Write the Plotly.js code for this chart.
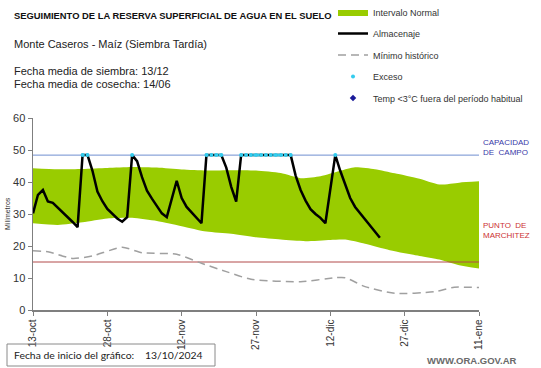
<!DOCTYPE html>
<html>
<head>
<meta charset="utf-8">
<script src="https://cdn.plot.ly/plotly-3.0.1.min.js"></script>
<style>html,body{margin:0;padding:0;background:#fff;}#chart{width:541px;height:368px;}</style>
</head>
<body>
<div id="chart"></div>
<script>
// Days since chart start (13/10/2024)
const tickDays = [0, 15, 30, 45, 60, 75, 90];
const tickLabels = ['13-oct', '28-oct', '12-nov', '27-nov', '12-dic', '27-dic', '11-ene'];

// Almacenaje (mm)
const almDays = [0,1,2,3,4,5,6,7,8,9,10,11,12,13,14,15,16,17,18,19,20,21,22,23,24,25,26,27,28,29,30,31,32,33,34,35,36,37,38,39,40,41,42,43,44,45,46,47,48,49,50,51,52,53,54,55,56,57,58,59,60,61,62,63,64,65,66,67,68,69,70];
const almValues = [30.2,36.0,37.5,33.9,33.5,32.0,30.8,29.0,27.5,25.9,48.4,48.4,43.5,37.0,34.0,31.6,30.0,28.6,27.6,29.0,48.4,46.5,41.5,37.3,34.8,32.6,30.2,29.0,34.8,40.4,35.0,32.2,30.5,28.8,27.1,48.4,48.4,48.4,48.4,44.5,38.5,33.9,48.4,48.4,48.4,48.4,48.4,48.4,48.4,48.4,48.4,48.4,48.4,42.0,37.5,34.2,31.5,30.0,28.8,27.1,37.0,48.4,43.5,39.0,35.0,32.2,30.3,28.6,26.6,24.5,22.6];

// Exceso (days at field capacity)
const excDays = [10,11,20,35,36,37,38,42,43,44,45,46,47,48,49,50,51,52,61];
const excValues = [48.4,48.4,48.4,48.4,48.4,48.4,48.4,48.4,48.4,48.4,48.4,48.4,48.4,48.4,48.4,48.4,48.4,48.4,48.4];

// Intervalo normal
const upDays = [0,5,10,15,20,25,30,35,40,45,50,54,58,62,65,69,73,78,82,86,90];
const upValues = [44.3,44.0,44.1,44.4,44.7,44.5,43.9,43.6,43.7,43.6,42.8,41.2,41.8,43.5,44.6,44.0,42.7,41.0,39.2,39.8,40.2];
const lowDays = [0,5,10,15,20,25,30,35,40,45,50,55,60,63,67,72,78,82,86,90];
const lowValues = [27.1,26.6,27.4,28.6,28.8,27.8,26.2,24.5,23.8,22.7,22.0,21.5,21.9,22.0,20.7,18.7,16.9,15.8,14.0,13.0];

// Mínimo histórico
const minDays = [0,3,8,12,18,22,29,34,39,44,54,61,63,67,73,81,85,90];
const minValues = [18.5,18.2,16.1,16.9,19.6,17.9,17.4,14.6,12.0,9.6,8.85,10.1,10.1,7.3,5.2,5.7,7.1,7.0];

// Temp <3°C fuera del período habitual (no occurrences)
const tempDays = [null];
const tempValues = [null];

// Reference levels
const capacidadCampo = 48.4;
const puntoMarchitez = 15;
const rangeDays = [0, 90];

const FONT = 'Liberation Sans, Arial, sans-serif';

// dotted segments for excess
const excLineX = [], excLineY = [];
excDays.forEach((d, i) => {
  if (i > 0 && d - excDays[i-1] > 1) { excLineX.push(null); excLineY.push(null); }
  excLineX.push(d); excLineY.push(excValues[i]);
});

const traces = [
  {x: lowDays, y: lowValues, mode: 'lines', line: {width: 0, color: '#99CC00', shape: 'spline', smoothing: 0.6}, showlegend: false, hoverinfo: 'skip', legendgroup: 'g1'},
  {x: upDays, y: upValues, mode: 'lines', fill: 'tonexty', fillcolor: '#99CC00', line: {width: 0, color: '#99CC00', shape: 'spline', smoothing: 0.6}, name: 'Intervalo Normal', legendgroup: 'g1'},
  {x: rangeDays, y: [capacidadCampo, capacidadCampo], mode: 'lines', line: {color: '#6f8fd0', width: 1}, showlegend: false, hoverinfo: 'skip'},
  {x: rangeDays, y: [puntoMarchitez, puntoMarchitez], mode: 'lines', line: {color: '#b24a4a', width: 1}, showlegend: false, hoverinfo: 'skip'},
  {x: almDays, y: almValues, mode: 'lines', line: {color: '#000000', width: 2.5}, name: 'Almacenaje', legendgroup: 'g2'},
  {x: minDays, y: minValues, mode: 'lines', line: {color: '#a0a0a0', width: 1.5, dash: '8px,5px', shape: 'spline', smoothing: 0.6}, name: 'Mínimo histórico', legendgroup: 'g3'},
  {x: excLineX, y: excLineY, mode: 'lines', line: {color: '#33ccee', width: 2.5, dash: '2px,2px'}, showlegend: false, hoverinfo: 'skip', connectgaps: false},
  {x: excDays, y: excValues, mode: 'markers', marker: {color: '#33ccee', size: 4}, name: 'Exceso', legendgroup: 'g4'},
  {x: tempDays, y: tempValues, mode: 'markers', marker: {color: '#1a1a99', size: 5, symbol: 'diamond'}, name: 'Temp <3°C fuera del período habitual', legendgroup: 'g5'}
];

const L = 33, R = 62, T = 118, B = 58, PW = 541 - L - R, PH = 368 - T - B;
function px(x) { return (x - L) / PW; }
function py(y) { return (368 - B - y) / PH; }

const layout = {
  width: 541, height: 368,
  margin: {l: L, r: R, t: T, b: B, pad: 0, autoexpand: false},
  paper_bgcolor: '#ffffff', plot_bgcolor: '#ffffff',
  font: {family: FONT, size: 10, color: '#333333'},
  showlegend: true,
  legend: {x: px(333), y: py(-2.5), xanchor: 'left', yanchor: 'top', bgcolor: 'rgba(0,0,0,0)', font: {size: 9, color: '#333333', family: FONT}, traceorder: 'grouped', tracegroupgap: 2.5},
  xaxis: {range: rangeDays, tickvals: tickDays, ticktext: tickLabels, tickangle: -90, ticks: 'outside', ticklen: 4, tickcolor: '#7f7f7f', showline: true, linecolor: '#7f7f7f', linewidth: 1.5, showgrid: false, zeroline: false, tickfont: {size: 10, color: '#333333', family: FONT}, fixedrange: true, automargin: false},
  yaxis: {range: [0, 60], dtick: 10, ticks: 'outside', ticklen: 4, tickcolor: '#7f7f7f', showline: true, linecolor: '#7f7f7f', linewidth: 1.5, showgrid: false, zeroline: false, tickfont: {size: 11, color: '#333333', family: FONT}, fixedrange: true, automargin: false},
  shapes: [
    {type: 'rect', xref: 'paper', yref: 'paper', x0: px(7), x1: px(215), y0: py(366), y1: py(344), line: {color: '#8a8a8a', width: 1}, fillcolor: 'rgba(0,0,0,0)'}
  ],
  annotations: [
    {text: '<b>SEGUIMIENTO DE LA RESERVA SUPERFICIAL DE AGUA EN EL SUELO</b>', xref: 'paper', yref: 'paper', x: px(12), y: py(15), xanchor: 'left', yanchor: 'middle', showarrow: false, font: {size: 9.4, color: '#111111', family: FONT}},
    {text: 'Monte Caseros - Maíz (Siembra Tardía)', xref: 'paper', yref: 'paper', x: px(12), y: py(44), xanchor: 'left', yanchor: 'middle', showarrow: false, font: {size: 11, color: '#222222', family: FONT}},
    {text: 'Fecha media de siembra: 13/12', xref: 'paper', yref: 'paper', x: px(12), y: py(71), xanchor: 'left', yanchor: 'middle', showarrow: false, font: {size: 11, color: '#222222', family: FONT}},
    {text: 'Fecha media de cosecha: 14/06', xref: 'paper', yref: 'paper', x: px(12), y: py(83.5), xanchor: 'left', yanchor: 'middle', showarrow: false, font: {size: 11, color: '#222222', family: FONT}},
    {text: 'Milímetros', xref: 'paper', yref: 'paper', x: px(7), y: py(214), xanchor: 'center', yanchor: 'middle', textangle: -90, showarrow: false, font: {size: 7, color: '#333333', family: FONT}},
    {text: 'CAPACIDAD<br>DE  CAMPO', xref: 'paper', yref: 'paper', x: px(481), y: py(147.5), xanchor: 'left', yanchor: 'middle', align: 'left', showarrow: false, font: {size: 8, color: '#3a3aa8', family: FONT}},
    {text: 'PUNTO  DE<br>MARCHITEZ', xref: 'paper', yref: 'paper', x: px(481), y: py(230.5), xanchor: 'left', yanchor: 'middle', align: 'left', showarrow: false, font: {size: 8, color: '#cc3333', family: FONT}},
    {text: 'Fecha de inicio del gráfico:', xref: 'paper', yref: 'paper', x: px(12), y: py(355), xanchor: 'left', yanchor: 'middle', showarrow: false, font: {size: 10.4, color: '#222222', family: 'Lato, sans-serif'}},
    {text: '13/10/2024', xref: 'paper', yref: 'paper', x: px(143), y: py(355), xanchor: 'left', yanchor: 'middle', showarrow: false, font: {size: 10.4, color: '#222222', family: 'Lato, sans-serif'}},
    {text: '<b>WWW.ORA.GOV.AR</b>', xref: 'paper', yref: 'paper', x: px(519), y: py(360), xanchor: 'right', yanchor: 'middle', showarrow: false, font: {size: 9.5, color: '#6a6a6a', family: FONT}}
  ]
};

Plotly.newPlot('chart', traces, layout, {displayModeBar: false, staticPlot: true});
</script>
</body>
</html>
